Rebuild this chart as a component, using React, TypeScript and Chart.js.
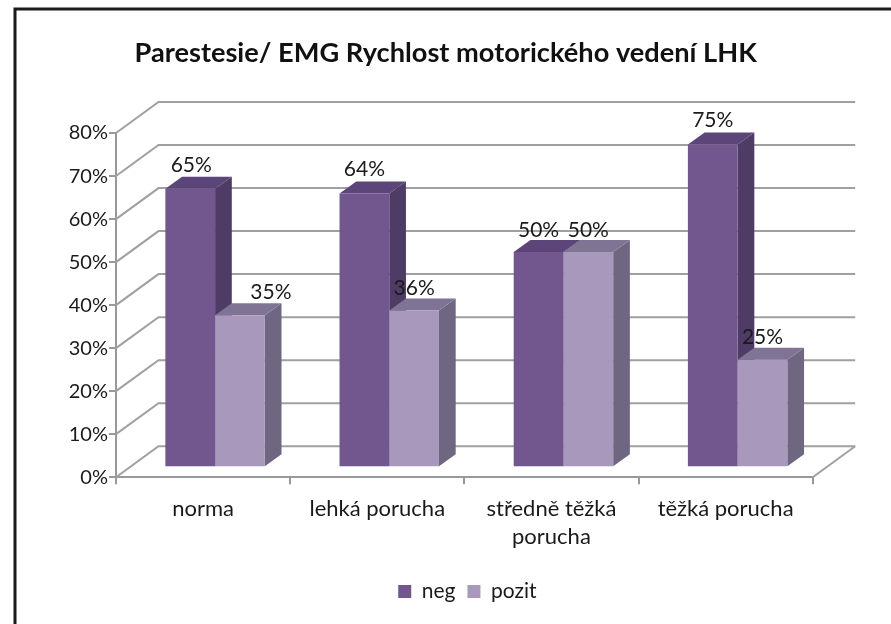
import React, { useEffect, useRef } from "react";
import { Chart, registerables } from "chart.js";

Chart.register(...registerables);

const categories: (string | string[])[] = ["norma", "lehká porucha", ["středně těžká", "porucha"], "těžká porucha"];
const negValues = [64.7, 63.6, 50, 75];
const pozitValues = [35.3, 36.4, 50, 25];
const titleText = "Parestesie/ EMG Rychlost motorického vedení LHK";

const FONT = "Lato, 'Open Sans', sans-serif";
const wallDepth = { x: 42.5, y: -31 };
const barShift = { x: 12, y: -10 };
const barDepth = { x: 16.7, y: -12 };
const faces = [
  { side: "#4f3c66", top: "#5c4578" },
  { side: "#6f6781", top: "#7f7494" },
];
const labelNudge = [
  [{ x: 1, y: -24 }, { x: 0, y: -24 }, { x: 0, y: -22 }, { x: 0, y: -24 }],
  [{ x: 31, y: -23 }, { x: 0, y: -22 }, { x: 0, y: -22 }, { x: 0, y: -22 }],
];

function drawFaces(chart: any, index: number) {
  const { ctx } = chart;
  chart.getDatasetMeta(index).data.forEach((bar: any) => {
    const p = bar.getProps(["x", "y", "base", "width"], true);
    const l = p.x - p.width / 2;
    const r = p.x + p.width / 2;
    ctx.fillStyle = faces[index].side;
    ctx.beginPath();
    ctx.moveTo(r, p.y);
    ctx.lineTo(r + barDepth.x, p.y + barDepth.y);
    ctx.lineTo(r + barDepth.x, p.base + barDepth.y);
    ctx.lineTo(r, p.base);
    ctx.closePath();
    ctx.fill();
    ctx.fillStyle = faces[index].top;
    ctx.beginPath();
    ctx.moveTo(l, p.y);
    ctx.lineTo(l + barDepth.x, p.y + barDepth.y);
    ctx.lineTo(r + barDepth.x, p.y + barDepth.y);
    ctx.lineTo(r, p.y);
    ctx.closePath();
    ctx.fill();
  });
}

const depthPlugin = {
  id: "depth",
  afterLayout(chart: any) {
    chart.legend.left += 61;
    chart.legend.right += 61;
    chart.titleBlock.left += 39.3;
    chart.titleBlock.right += 39.3;
  },
  beforeDraw(chart: any) {
    const { ctx, width, height } = chart;
    ctx.save();
    ctx.fillStyle = "#ffffff";
    ctx.fillRect(0, 0, width, height);
    ctx.strokeStyle = "#1a1a1a";
    ctx.lineWidth = 3;
    ctx.beginPath();
    ctx.moveTo(width, 9);
    ctx.lineTo(15, 9);
    ctx.lineTo(15, height);
    ctx.stroke();
    ctx.restore();
  },
  beforeDatasetsDraw(chart: any) {
    const { ctx, scales, chartArea } = chart;
    const y = scales.y;
    ctx.save();
    ctx.strokeStyle = "#a0a0a0";
    ctx.lineWidth = 2;
    ctx.lineJoin = "miter";
    y.ticks.forEach((t: any) => {
      const py = y.getPixelForValue(t.value);
      ctx.beginPath();
      ctx.moveTo(chartArea.left, py);
      ctx.lineTo(chartArea.left + wallDepth.x, py + wallDepth.y);
      ctx.lineTo(chartArea.right + wallDepth.x, py + wallDepth.y);
      ctx.stroke();
    });
    const py0 = y.getPixelForValue(0);
    ctx.beginPath();
    ctx.moveTo(chartArea.right + wallDepth.x, py0 + wallDepth.y);
    ctx.lineTo(chartArea.right, py0);
    ctx.stroke();
    ctx.restore();
  },
  beforeDatasetDraw(chart: any, args: any) {
    // Chart.js paints the last dataset first; the second series must lie over
    // the first one's side face, so it is painted right after the first.
    if (args.index === 1) return false;
    chart.ctx.save();
    chart.ctx.translate(barShift.x, barShift.y);
    drawFaces(chart, 0);
  },
  afterDatasetDraw(chart: any, args: any) {
    if (args.index === 0) {
      drawFaces(chart, 1);
      chart.getDatasetMeta(1).controller.draw();
    }
    chart.ctx.restore();
  },
  afterDatasetsDraw(chart: any) {
    const { ctx } = chart;
    ctx.save();
    ctx.font = `21px ${FONT}`;
    ctx.fillStyle = "#1a1a1a";
    ctx.textAlign = "center";
    ctx.textBaseline = "middle";
    chart.data.datasets.forEach((ds: any, i: number) => {
      chart.getDatasetMeta(i).data.forEach((bar: any, j: number) => {
        const n = labelNudge[i][j];
        ctx.fillText(`${Math.round(ds.data[j])}%`, bar.x + barShift.x + n.x, bar.y + barShift.y + n.y);
      });
    });
    ctx.restore();
  },
};

export default function App() {
  const ref = useRef<HTMLCanvasElement>(null);
  useEffect(() => {
    const chart = new Chart(ref.current!, {
      type: "bar",
      data: {
        labels: categories as any,
        datasets: [
          { label: "neg", data: negValues, backgroundColor: "#72578f", clip: false } as any,
          { label: "pozit", data: pozitValues, backgroundColor: "#a898bc", clip: false } as any,
        ],
      },
      plugins: [depthPlugin as any],
      options: {
        animation: false,
        responsive: false,
        layout: { padding: { left: 0, right: 78.3, top: 0, bottom: 12 } },
        datasets: { bar: { categoryPercentage: 0.571, barPercentage: 1 } },
        plugins: {
          title: {
            display: true,
            text: titleText,
            color: "#111111",
            font: { family: FONT, size: 27.2, weight: "bold" },
            padding: { top: 36.8, bottom: 63.6 },
          },
          legend: {
            position: "bottom",
            labels: {
              boxWidth: 13,
              boxHeight: 13,
              color: "#1a1a1a",
              font: { family: FONT, size: 21 },
              padding: 12,
            },
          },
          tooltip: { enabled: false },
        },
        scales: {
          x: {
            afterFit(s: any) { s.height = 91.8; },
            grid: { drawOnChartArea: false, color: "#999999", lineWidth: 2, tickLength: 7, offset: true },
            border: { color: "#999999", width: 2 },
            ticks: { color: "#1a1a1a", font: { family: FONT, size: 22, lineHeight: 1.3 }, maxRotation: 0, padding: 10 },
          },
          y: {
            min: 0,
            max: 80,
            afterFit(s: any) { s.width = 116; },
            grid: { drawOnChartArea: false, color: "#999999", lineWidth: 2, tickLength: 7 },
            border: { color: "#999999", width: 2 },
            ticks: { stepSize: 10, color: "#1a1a1a", font: { family: FONT, size: 20 }, padding: 1, callback: (v: any) => `${v}%` },
          },
        },
      } as any,
    });
    return () => chart.destroy();
  }, []);
  return (
    <div style={{ position: "fixed", left: 0, top: 0, width: 891, height: 624, background: "#fff" }}>
      <canvas ref={ref} width={891} height={624} style={{ display: "block", filter: "blur(0.4px)" }} />
    </div>
  );
}
